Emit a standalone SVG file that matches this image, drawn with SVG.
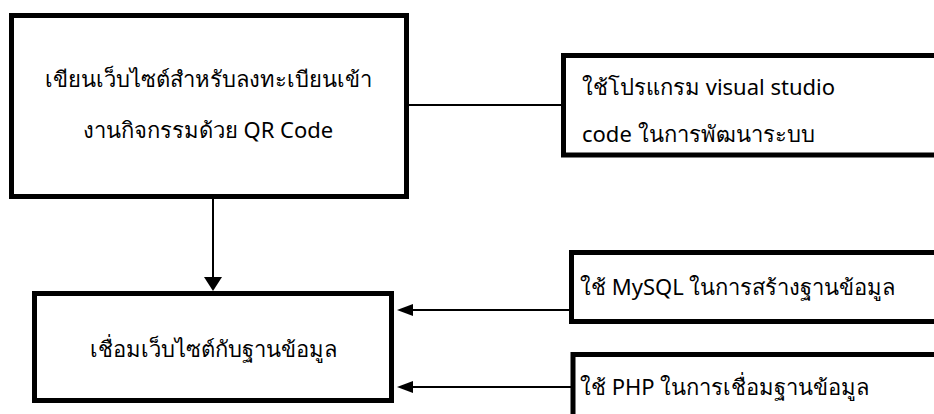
<svg xmlns="http://www.w3.org/2000/svg" width="934" height="414" viewBox="0 0 934 414">
<style>
.box{fill:#fff;stroke:#000;stroke-width:5}
.ln{fill:none;stroke:#000;stroke-width:2}
.ah{fill:#000}
text{font-family:"Noto Sans","DejaVu Sans",sans-serif;font-size:22px;fill:#000}
</style>
<rect width="934" height="414" fill="#fff"/>
<g id="connectors">
<line class="ln" x1="405" y1="105" x2="563" y2="105"/>
<line class="ln" x1="213" y1="199" x2="213" y2="280"/>
<path class="ah" d="M204,277 L222,277 L213,291 Z"/>
<line class="ln" x1="571" y1="310" x2="410" y2="310"/>
<path class="ah" d="M397,310 L413,304 L413,316 Z"/>
<line class="ln" x1="573" y1="387" x2="410" y2="387"/>
<path class="ah" d="M397,387 L413,381 L413,393 Z"/>
</g>
<g id="node1">
<rect class="box" x="11.5" y="15.5" width="395" height="181"/>
<text x="208" y="87" text-anchor="middle">เขียนเว็บไซต์สำหรับลงทะเบียนเข้า</text>
<text x="208" y="138" text-anchor="middle">งานกิจกรรมด้วย QR Code</text>
</g>
<g id="node2">
<rect class="box" x="563.5" y="55.5" width="400" height="99.5"/>
<text x="582" y="95">ใช้โปรแกรม visual studio</text>
<text x="582" y="142">code ในการพัฒนาระบบ</text>
</g>
<g id="node3">
<rect class="box" x="34.5" y="293.5" width="357" height="107"/>
<text x="213" y="357" text-anchor="middle">เชื่อมเว็บไซต์กับฐานข้อมูล</text>
</g>
<g id="node4">
<rect class="box" x="571.5" y="252.5" width="400" height="69"/>
<text x="580" y="295">ใช้ MySQL ในการสร้างฐานข้อมูล</text>
</g>
<g id="node5">
<rect class="box" x="573" y="354.5" width="400" height="100"/>
<text x="580" y="395">ใช้ PHP ในการเชื่อมฐานข้อมูล</text>
</g>
</svg>
